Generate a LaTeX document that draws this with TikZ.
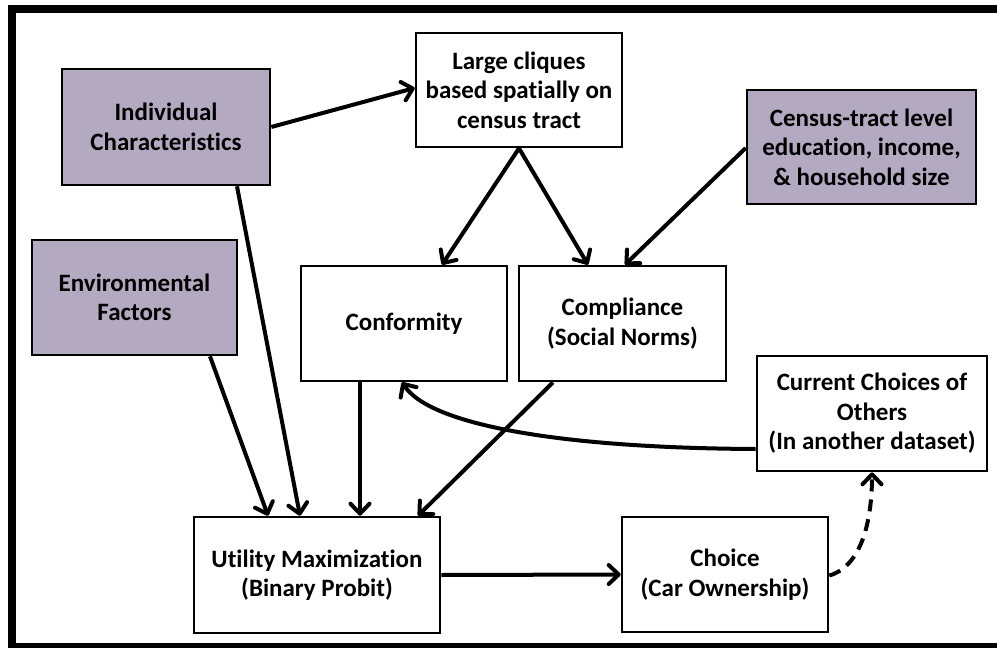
\documentclass[tikz,border=0pt]{standalone}
\usepackage{fontspec}
\setmainfont{Carlito}[Ligatures={NoCommon,NoContextual}]
\usetikzlibrary{arrows.meta}
\definecolor{factorfill}{RGB}{179,170,194}
\begin{document}
\begin{tikzpicture}[x=1pt,y=-1pt,
  box/.style={draw=black, line width=2.6pt, fill=white, rectangle, inner sep=0pt,
    align=center, font=\fontsize{25}{29.5}\selectfont\bfseries},
  factor/.style={box, fill=factorfill},
  link/.style={line width=4pt, -{Straight Barb[length=10pt,width=19pt,round]}},
  feedback/.style={link, dash pattern=on 12pt off 8pt}]
\useasboundingbox (0,0) rectangle (997,648);
\fill[white] (0,0) rectangle (997,648);
% frame
\draw[line width=8pt] (12,1000) -- (12,9) -- (1010,9);
\draw[line width=8pt] (12,647) -- (1010,647);

% boxes
\node[factor, minimum width=208pt, minimum height=116pt] (ind) at (166,127) {Individual\\Characteristics};
\node[box, minimum width=206pt, minimum height=114pt] (clq) at (519,90) {Large cliques\\based spatially on\\census tract};
\node[factor, minimum width=229pt, minimum height=114pt] (cen) at (861.5,147) {Census-tract level\\education, income,\\\& household size};
\node[factor, minimum width=205pt, minimum height=115pt] (env) at (134.5,297.5) {Environmental\\Factors};
\node[box, minimum width=206pt, minimum height=115pt] (conf) at (404,323.5) {Conformity};
\node[box, minimum width=207pt, minimum height=115pt] (comp) at (622.5,323.5) {Compliance\\(Social Norms)};
\node[box, minimum width=230pt, minimum height=115pt] (cur) at (872,413.5) {Current Choices of\\Others\\(In another dataset)};
\node[box, minimum width=246pt, minimum height=116pt] (util) at (317,575) {Utility Maximization\\(Binary Probit)};
\node[box, minimum width=206pt, minimum height=115pt] (cho) at (725,574.5) {Choice\\(Car Ownership)};

% connectors
\draw[link] (ind.east) -- ([yshift=2pt]clq.west);
\draw[link] ([xshift=71pt]ind.south) -- ([xshift=-17pt]util.north);
\draw[link] ([xshift=75.5pt]env.south) -- ([xshift=-49pt]util.north);
\draw[link] ([xshift=-44pt]conf.south) -- ([xshift=43pt]util.north);
\draw[link] ([xshift=-69.5pt]comp.south) -- ([xshift=101pt]util.north);
\draw[link] (clq.south) -- ([xshift=38pt]conf.north);
\draw[link] (clq.south) -- ([xshift=-34.5pt]comp.north);
\draw[link] ([yshift=-1pt]cen.west) -- ([xshift=2.5pt]comp.north);
\draw[link] ([yshift=-35.5pt]cur.west) .. controls (560,448) and (430,425) .. ([xshift=-2pt]conf.south);
\draw[link] (util.east) -- (cho.west);
\draw[feedback] ([yshift=-1pt]cho.east) .. controls (862,566) and (872,520) .. (cur.south);
\end{tikzpicture}
\end{document}
